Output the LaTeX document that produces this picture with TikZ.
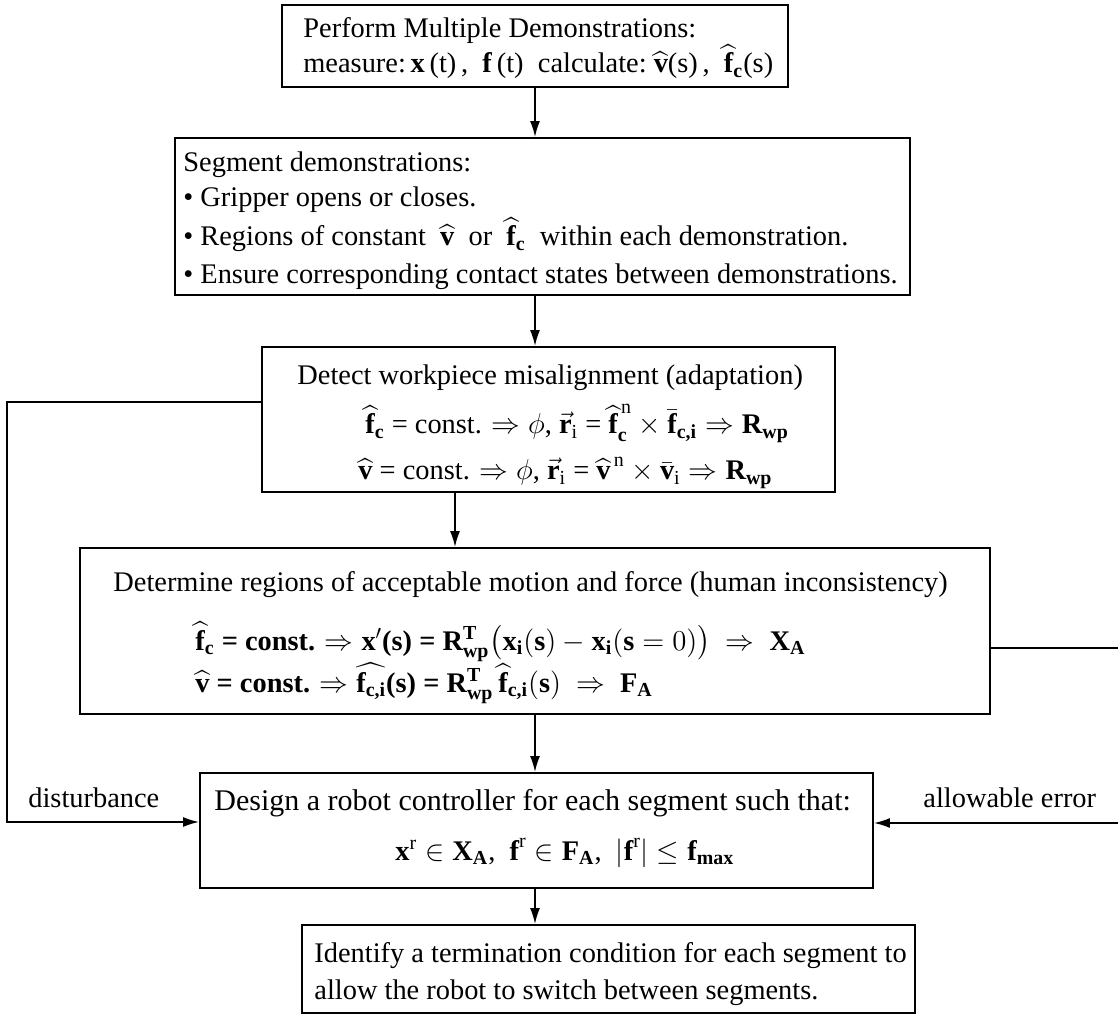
\documentclass[tikz,border=0pt]{standalone}
\usepackage{amsmath}
\usepackage{fontspec}
\setmainfont{Liberation Serif}
\usetikzlibrary{arrows.meta,fit}

% bold symbols used in the formulas
\newcommand{\bff}{\textbf{f}}
\newcommand{\bfx}{\textbf{x}}
\newcommand{\vh}{\widehat{\textbf{v}}}
\newcommand{\fh}{\widehat{\textbf{f}}}
\newcommand{\Rwp}{\textbf{R}_{\textbf{wp}}}

\begin{document}
\begin{tikzpicture}[x=0.5pt,y=-0.5pt,
  box/.style={draw,line width=0.9pt,inner sep=0pt},
  txt/.style={anchor=base west,inner sep=0pt,font=\fontsize{14.2}{17}\selectfont},
  arr/.style={line width=0.9pt,-{Latex[length=8pt,width=5pt]}}]
\useasboundingbox (0,0) rectangle (1118,1020);

% process boxes
\node[box,fit={(282,5)(788,87)}] (b1) {};
\node[box,fit={(175,138)(910,295)}] (b2) {};
\node[box,fit={(262,347)(835,492)}] (b3) {};
\node[box,fit={(80,548)(990,714)}] (b4) {};
\node[box,fit={(200,773)(873,888)}] (b5) {};
\node[box,fit={(302,925)(915,1013)}] (b6) {};

% columns of the vertical connectors
\coordinate (colA) at (535,0);
\coordinate (colB) at (455,0);

% box 1
\node[txt] (t1a) at (303,38) {Perform Multiple Demonstrations:};
\node[txt] (t1b) at (303,73) {measure:\,\textbf{x}\,(t)\,,\ \ \textbf{f}\,(t)\ \ calculate:\ $\vh$(s)\,,\ \ $\fh_{\textbf{c}}$(s)};

% box 2
\node[txt] (t2a) at (183,172) {Segment demonstrations:};
\node[txt] (t2b) at (183,207) {\textbullet\ Gripper opens or closes.};
\node[txt] (t2c) at (183,246) {\textbullet\ Regions of constant\ \ $\vh$\ \ or\ \ $\fh_{\textbf{c}}$\ \ within each demonstration.};
\node[txt] (t2d) at (183,284) {\textbullet\ Ensure corresponding contact states between demonstrations.};

% box 3
\node[txt] (t3a) at (297,385) {Detect workpiece misalignment (adaptation)};
\node[txt] (t3b) at (365,434) {$\fh_{\textbf{c}}$ = const. $\Rightarrow\phi$, $\vec{\textbf{r}}_{\text{i}}$ = $\fh^{\,\text{n}}_{\textbf{c}}\times\bar{\textbf{f}}_{\textbf{c,i}}\Rightarrow\Rwp$};
\node[txt] (t3c) at (358,480) {$\vh$ = const. $\Rightarrow\phi$, $\vec{\textbf{r}}_{\text{i}}$ = $\vh^{\,\text{n}}\times\bar{\textbf{v}}_{\text{i}}\Rightarrow\Rwp$};

% box 4
\node[txt] (t4a) at (113,592) {Determine regions of acceptable motion and force (human inconsistency)};
\node[txt,font=\fontsize{14.2}{17}\selectfont\bfseries] (t4b) at (195,650) {$\fh_{\textbf{c}}$ = const. $\Rightarrow\bfx'$(s)\ =\ $\Rwp^{\text{T}}\bigl(\bfx_{\text{i}}(\textbf{s})-\bfx_{\text{i}}(\textbf{s}=0)\bigr)\ \Rightarrow\ \textbf{X}_{\textbf{A}}$};
\node[txt,font=\fontsize{14.2}{17}\selectfont\bfseries] (t4c) at (195,692) {$\vh$ = const. $\Rightarrow\widehat{\textbf{f}_{\textbf{c,i}}}$(s)\ =\ $\Rwp^{\text{T}}\,\fh_{\textbf{c,i}}(\textbf{s})\ \Rightarrow\ \textbf{F}_{\textbf{A}}$};

% box 5
\node[txt,font=\fontsize{15}{17}\selectfont] (t5a) at (214,810) {Design a robot controller for each segment such that:};
\node[txt] (t5b) at (395,860) {$\bfx^{\text{r}}\in\textbf{X}_{\textbf{A}}$,\ \ $\bff^{\text{r}}\in\textbf{F}_{\textbf{A}}$,\ \ $|\bff^{\text{r}}|\leq\bff_{\textbf{max}}$};

% box 6
\node[txt] (t6a) at (314,962) {Identify a termination condition for each segment to};
\node[txt] (t6b) at (314,999) {allow the robot to switch between segments.};

% main flow
\draw[arr] (b1.south -| colA) -- (b2.north -| colA);
\draw[arr] (b2.south -| colA) -- (b3.north -| colA);
\draw[arr] (b3.south -| colB) -- (b4.north -| colB);
\draw[arr] (b4.south -| colA) -- (b5.north -| colA);
\draw[arr] (b5.south -| colA) -- (b6.north -| colA);

% feedback paths into the controller design
\coordinate (lft) at (7,402);
\coordinate (rgt) at (1130,648);
\coordinate (inL) at (0,822);
\coordinate (inR) at (0,823);
\node[txt] (dist) at (28,807) {disturbance};
\node[txt] (allow) at (923,807) {allowable error};
\draw[arr] (b3.west |- lft) -- (lft) -- (lft |- inL) -- (b5.west |- inL);
\draw[arr] (b4.east |- rgt) -- (rgt) -- (rgt |- inR) -- (b5.east |- inR);
\end{tikzpicture}
\end{document}
